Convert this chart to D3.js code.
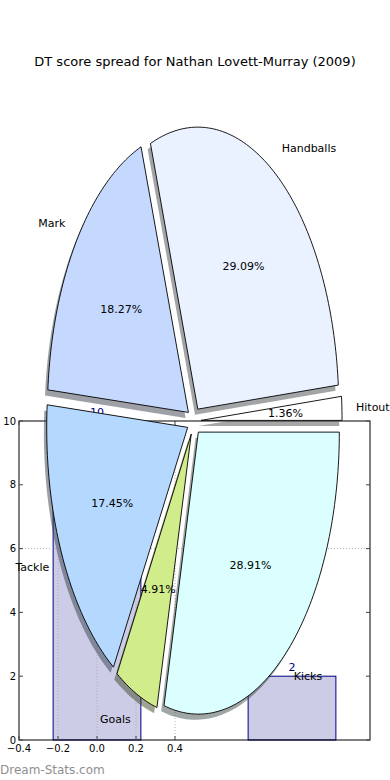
<!DOCTYPE html>
<head>
  <meta charset="utf-8">
  <script src="https://d3js.org/d3.v7.min.js"></script>
  <style>
    body { margin: 0; background: #fff; }
    svg { display: block; font-family: 'DejaVu Sans', sans-serif; }
    .tick-label { font-size: 10px; fill: #000; }
    .pie-label { font-size: 11px; fill: #000; }
  </style>
</head>
<body>
<svg width="390" height="780"></svg>
<script>

// pie data, in drawing order (counter-clockwise from 3 o'clock)
var categories = ["Hitout", "Handballs", "Mark", "Tackle", "Goals", "Kicks"];
var shares = [1.36, 29.09, 18.27, 17.45, 4.91, 28.91];
var sliceColors = ["#ffffff", "#ebf2ff", "#c5d9ff", "#b5d8ff", "#d1ec8a", "#dbffff"];

// bar data
var barX = [0, 1];
var barValues = [10, 2];

// ticks
var xTicks = [-0.4, -0.2, 0.0, 0.2, 0.4];
var yTicks = [0, 2, 4, 6, 8, 10];
var gridX = [-0.2, 0.0, 0.2, 0.4];
var gridY = [6];

var title = "DT score spread for Nathan Lovett-Murray (2009)";
var watermark = "Dream-Stats.com";

var svg = d3.select("svg");

// bar axes
var x = d3.scaleLinear().domain([-0.4, 1.4]).range([19, 370]);
var y = d3.scaleLinear().domain([0, 10]).range([740, 421]);

// pie axes (stretched, not equal aspect)
var px = d3.scaleLinear().domain([-1, 1]).range([194 - 141, 194 + 141]);
var py = d3.scaleLinear().domain([-1, 1]).range([421 + 282, 421 - 282]);
var explode = 0.05;

svg.append("text")
    .attr("x", 195)
    .attr("y", 61)
    .attr("text-anchor", "middle")
    .attr("dominant-baseline", "central")
    .style("font-size", "13px")
    .text(title);

// grid
var grid = svg.append("g").attr("class", "grid")
    .attr("stroke", "#b0b0b0")
    .attr("stroke-dasharray", "1,2");
grid.selectAll(".gy").data(gridY).enter().append("line")
    .attr("x1", x(-0.4)).attr("x2", x(1.4))
    .attr("y1", function(d) { return y(d); })
    .attr("y2", function(d) { return y(d); });

// bars
svg.selectAll(".bar")
    .data(barValues)
    .enter()
    .append("rect")
    .attr("class", "bar")
    .attr("x", function(d, i) { return x(barX[i] - 0.225); })
    .attr("width", x(0.45) - x(0))
    .attr("y", function(d) { return y(d); })
    .attr("height", function(d) { return y(0) - y(d); })
    .attr("fill", "navy")
    .attr("fill-opacity", 0.2)
    .attr("stroke", "navy")
    .attr("stroke-width", 1);

grid.raise();
grid.selectAll(".gx").data(gridX).enter().append("line")
    .attr("x1", function(d) { return x(d); })
    .attr("x2", function(d) { return x(d); })
    .attr("y1", y(0)).attr("y2", y(10));

svg.selectAll(".bar-label")
    .data(barValues)
    .enter()
    .append("text")
    .attr("class", "bar-label")
    .attr("x", function(d, i) { return x(barX[i]); })
    .attr("y", function(d) { return y(d) - 5; })
    .attr("text-anchor", "middle")
    .style("font-size", "11px")
    .attr("fill", "navy")
    .text(function(d) { return d; });

// frame and ticks
svg.append("rect")
    .attr("x", x(-0.4)).attr("y", y(10))
    .attr("width", x(1.4) - x(-0.4)).attr("height", y(0) - y(10))
    .attr("fill", "none").attr("stroke", "#000").attr("stroke-width", 1);

var ticks = svg.append("g").attr("stroke", "#444").attr("stroke-width", 1);
yTicks.forEach(function(t) {
  ticks.append("line").attr("x1", x(-0.4)).attr("x2", x(-0.4) + 4).attr("y1", y(t)).attr("y2", y(t));
  ticks.append("line").attr("x1", x(1.4)).attr("x2", x(1.4) - 4).attr("y1", y(t)).attr("y2", y(t));
});
xTicks.forEach(function(t) {
  ticks.append("line").attr("x1", x(t)).attr("x2", x(t)).attr("y1", y(0)).attr("y2", y(0) - 4);
  ticks.append("line").attr("x1", x(t)).attr("x2", x(t)).attr("y1", y(10)).attr("y2", y(10) + 4);
});

svg.selectAll(".ytl").data(yTicks).enter().append("text")
    .attr("class", "tick-label")
    .attr("x", x(-0.4) - 3)
    .attr("y", function(d) { return y(d); })
    .attr("text-anchor", "end")
    .attr("dominant-baseline", "central")
    .text(function(d) { return d; });

svg.selectAll(".xtl").data(xTicks).enter().append("text")
    .attr("class", "tick-label")
    .attr("x", function(d) { return x(d); })
    .attr("y", y(0) + 12)
    .attr("text-anchor", "middle")
    .text(function(d) { return d3.format(".1f")(d).replace("-", "\u2212"); });

// pie (d3 angles are clockwise from 12 o'clock, so sweep backwards)
var arcs = d3.pie().sort(null)
    .startAngle(Math.PI / 2)
    .endAngle(Math.PI / 2 - 2 * Math.PI)(shares);

var wedges = arcs.map(function(a, i) {
  var t1 = Math.PI / 2 - a.startAngle;
  var t2 = Math.PI / 2 - a.endAngle;
  var tm = (t1 + t2) / 2;
  var cx = explode * Math.cos(tm), cy = explode * Math.sin(tm);
  var pts = [[cx, cy]];
  var n = Math.max(4, Math.ceil((t2 - t1) / 0.02));
  for (var k = 0; k <= n; k++) {
    var t = t1 + (t2 - t1) * k / n;
    pts.push([cx + Math.cos(t), cy + Math.sin(t)]);
  }
  return {name: categories[i], share: shares[i], color: sliceColors[i], tm: tm, cx: cx, cy: cy, pts: pts};
});

var line = d3.line()
    .x(function(d) { return px(d[0]); })
    .y(function(d) { return py(d[1]); });

var shadowLine = d3.line()
    .x(function(d) { return px(d[0] - 0.02); })
    .y(function(d) { return py(d[1] - 0.02); });

svg.selectAll(".shadow")
    .data(wedges)
    .enter()
    .append("path")
    .attr("class", "shadow")
    .attr("d", function(d) { return shadowLine(d.pts) + "Z"; })
    .attr("fill", function(d) {
      var c = d3.rgb(d.color);
      return d3.rgb(c.r * 0.3, c.g * 0.3, c.b * 0.3);
    })
    .attr("fill-opacity", 0.5);

svg.selectAll(".wedge")
    .data(wedges)
    .enter()
    .append("path")
    .attr("class", "wedge")
    .attr("d", function(d) { return line(d.pts) + "Z"; })
    .attr("fill", function(d) { return d.color; })
    .attr("stroke", "#000")
    .attr("stroke-width", 0.9);

svg.selectAll(".slice-label")
    .data(wedges)
    .enter()
    .append("text")
    .attr("class", "pie-label")
    .attr("x", function(d) { return px(d.cx + 1.1 * Math.cos(d.tm)); })
    .attr("y", function(d) { return py(d.cy + 1.1 * Math.sin(d.tm)); })
    .attr("text-anchor", function(d) { return Math.cos(d.tm) > 0 ? "start" : "end"; })
    .attr("dominant-baseline", "central")
    .text(function(d) { return d.name; });

svg.selectAll(".pct-label")
    .data(wedges)
    .enter()
    .append("text")
    .attr("class", "pie-label")
    .attr("x", function(d) { return px(d.cx + 0.6 * Math.cos(d.tm)); })
    .attr("y", function(d) { return py(d.cy + 0.6 * Math.sin(d.tm)); })
    .attr("text-anchor", "middle")
    .attr("dominant-baseline", "central")
    .text(function(d) { return d3.format(".2f")(d.share) + "%"; });

svg.append("text")
    .attr("x", 0)
    .attr("y", 774)
    .style("font-size", "12px")
    .attr("fill", "#8f8f8f")
    .text(watermark);

</script>
</body>
